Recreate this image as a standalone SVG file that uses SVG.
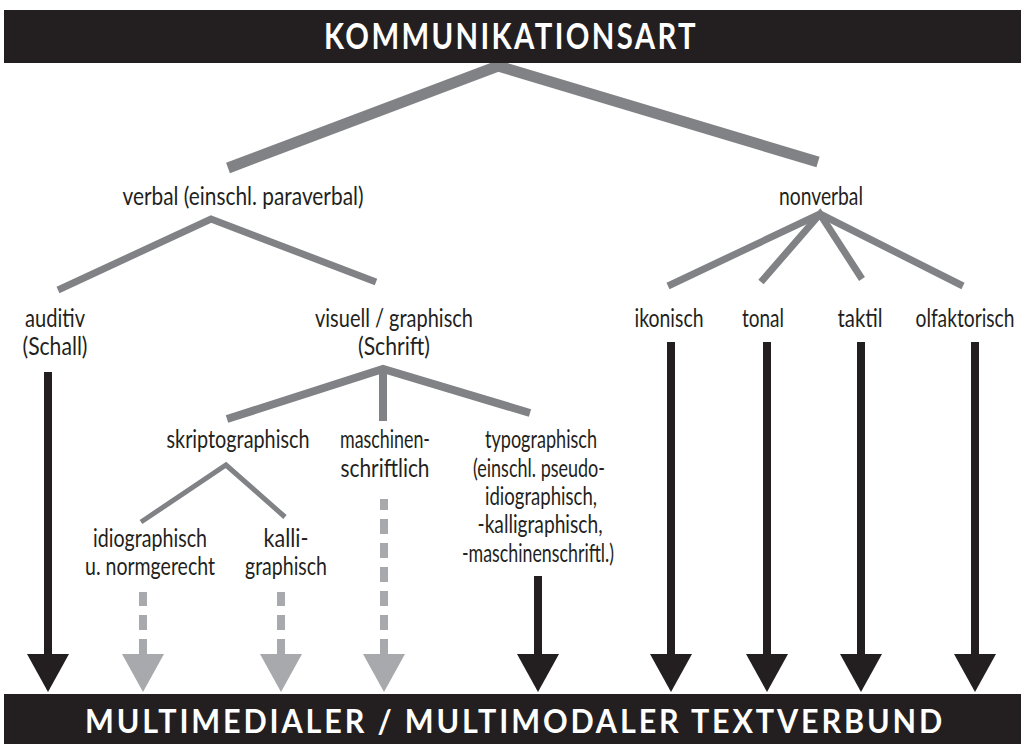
<svg xmlns="http://www.w3.org/2000/svg" width="1021" height="744" viewBox="0 0 1021 744">
  <style>
    .bar { fill: #231f20; }
    .bar-label { font-family: Lato, "DejaVu Sans", sans-serif; font-weight: bold; fill: #ffffff; text-anchor: middle; letter-spacing: 3px; }
    .label { font-family: Lato, "DejaVu Sans", sans-serif; font-size: 25px; fill: #231f20; text-anchor: middle; }
    .branch { stroke: #808285; fill: none; stroke-linecap: butt; stroke-linejoin: miter; }
    .solid { stroke: #231f20; stroke-width: 8; fill: none; }
    .dashed { stroke: #a7a9ac; stroke-width: 8; fill: none; stroke-dasharray: 15 9; }
  </style>
  <defs>
    <marker id="head-dark" markerUnits="userSpaceOnUse" viewBox="0 0 38 42" refX="0" refY="21" markerWidth="38" markerHeight="42" orient="auto">
      <path d="M0,0 L38,21 L0,42 Z" fill="#231f20"/>
    </marker>
    <marker id="head-light" markerUnits="userSpaceOnUse" viewBox="0 0 38 42" refX="0" refY="21" markerWidth="38" markerHeight="42" orient="auto">
      <path d="M0,0 L38,21 L0,42 Z" fill="#a7a9ac"/>
    </marker>
  </defs>

  <!-- tree branches and arrows -->
  <g id="connectors">
    <!-- root split -->
    <path class="branch" stroke-width="11" d="M228,168 L498,66 L818,162"/>
    <!-- verbal split -->
    <path class="branch" stroke-width="7" d="M58,290 L211,219 L376,282"/>
    <!-- nonverbal split -->
    <path class="branch" stroke-width="7" d="M668,286 L820,214 L963,286"/>
    <path class="branch" stroke-width="7" d="M761,282 L820,214 L862,279"/>
    <!-- visuell / graphisch split -->
    <path class="branch" stroke-width="8" d="M227,419 L383,369 L530,413"/>
    <path class="branch" stroke-width="8" d="M383,369 L383,421"/>
    <!-- skriptographisch split -->
    <path class="branch" stroke-width="5" d="M141,522 L226,465 L285,517"/>

    <!-- solid arrows -->
    <line class="solid" x1="48" y1="372" x2="48" y2="654" marker-end="url(#head-dark)"/>
    <line class="solid" x1="538" y1="576" x2="538" y2="654" marker-end="url(#head-dark)"/>
    <line class="solid" x1="671" y1="342" x2="671" y2="654" marker-end="url(#head-dark)"/>
    <line class="solid" x1="767" y1="342" x2="767" y2="654" marker-end="url(#head-dark)"/>
    <line class="solid" x1="861" y1="342" x2="861" y2="654" marker-end="url(#head-dark)"/>
    <line class="solid" x1="975" y1="342" x2="975" y2="654" marker-end="url(#head-dark)"/>

    <!-- dashed arrows (drawn upward so a dash meets each head) -->
    <path class="dashed" d="M143,654 L143,592"/>
    <path class="dashed" d="M281,654 L281,592"/>
    <path class="dashed" d="M384,654 L384,499"/>
    <line x1="143" y1="650" x2="143" y2="654" stroke="none" marker-end="url(#head-light)"/>
    <line x1="281" y1="650" x2="281" y2="654" stroke="none" marker-end="url(#head-light)"/>
    <line x1="384" y1="650" x2="384" y2="654" stroke="none" marker-end="url(#head-light)"/>
  </g>

  <g id="kommunikationsart">
    <rect class="bar" x="4" y="10" width="1017" height="53"/>
    <text class="bar-label" x="511" y="49" font-size="37" textLength="374" lengthAdjust="spacingAndGlyphs">KOMMUNIKATIONSART</text>
  </g>

  <g id="verbal">
    <text class="label" x="243" y="205" textLength="241" lengthAdjust="spacingAndGlyphs">verbal (einschl. paraverbal)</text>
  </g>
  <g id="nonverbal">
    <text class="label" x="821" y="205" textLength="84" lengthAdjust="spacingAndGlyphs">nonverbal</text>
  </g>

  <g id="auditiv">
    <text class="label" x="55" y="327" textLength="60" lengthAdjust="spacingAndGlyphs">auditiv</text>
    <text class="label" x="55" y="355" textLength="65" lengthAdjust="spacingAndGlyphs">(Schall)</text>
  </g>
  <g id="visuell">
    <text class="label" x="394" y="327" textLength="158" lengthAdjust="spacingAndGlyphs">visuell / graphisch</text>
    <text class="label" x="394" y="355" textLength="72" lengthAdjust="spacingAndGlyphs">(Schrift)</text>
  </g>

  <g id="ikonisch"><text class="label" x="669" y="327" textLength="69" lengthAdjust="spacingAndGlyphs">ikonisch</text></g>
  <g id="tonal"><text class="label" x="763" y="327" textLength="42" lengthAdjust="spacingAndGlyphs">tonal</text></g>
  <g id="taktil"><text class="label" x="860" y="327" textLength="45" lengthAdjust="spacingAndGlyphs">taktil</text></g>
  <g id="olfaktorisch"><text class="label" x="965" y="327" font-size="24" textLength="99" lengthAdjust="spacingAndGlyphs">olfaktorisch</text></g>

  <g id="skriptographisch">
    <text class="label" x="238" y="448" textLength="143" lengthAdjust="spacingAndGlyphs">skriptographisch</text>
  </g>
  <g id="maschinenschriftlich">
    <text class="label" x="385" y="448" textLength="90" lengthAdjust="spacingAndGlyphs">maschinen-</text>
    <text class="label" x="385" y="477" textLength="89" lengthAdjust="spacingAndGlyphs">schriftlich</text>
  </g>
  <g id="typographisch">
    <text class="label" x="541" y="448" textLength="112" lengthAdjust="spacingAndGlyphs">typographisch</text>
    <text class="label" x="539" y="477" textLength="132" lengthAdjust="spacingAndGlyphs">(einschl. pseudo-</text>
    <text class="label" x="541" y="505" textLength="112" lengthAdjust="spacingAndGlyphs">idiographisch,</text>
    <text class="label" x="540" y="533" textLength="125" lengthAdjust="spacingAndGlyphs">-kalligraphisch,</text>
    <text class="label" x="538" y="562" textLength="152" lengthAdjust="spacingAndGlyphs">-maschinenschriftl.)</text>
  </g>

  <g id="idiographisch">
    <text class="label" x="150" y="547" textLength="114" lengthAdjust="spacingAndGlyphs">idiographisch</text>
    <text class="label" x="150" y="575" textLength="130" lengthAdjust="spacingAndGlyphs">u. normgerecht</text>
  </g>
  <g id="kalligraphisch">
    <text class="label" x="286" y="547" textLength="45" lengthAdjust="spacingAndGlyphs">kalli-</text>
    <text class="label" x="286" y="575" textLength="82" lengthAdjust="spacingAndGlyphs">graphisch</text>
  </g>

  <g id="textverbund">
    <rect class="bar" x="4" y="694" width="1017" height="50"/>
    <text class="bar-label" x="515" y="733" font-size="32" textLength="860" lengthAdjust="spacingAndGlyphs">MULTIMEDIALER / MULTIMODALER TEXTVERBUND</text>
  </g>
</svg>
